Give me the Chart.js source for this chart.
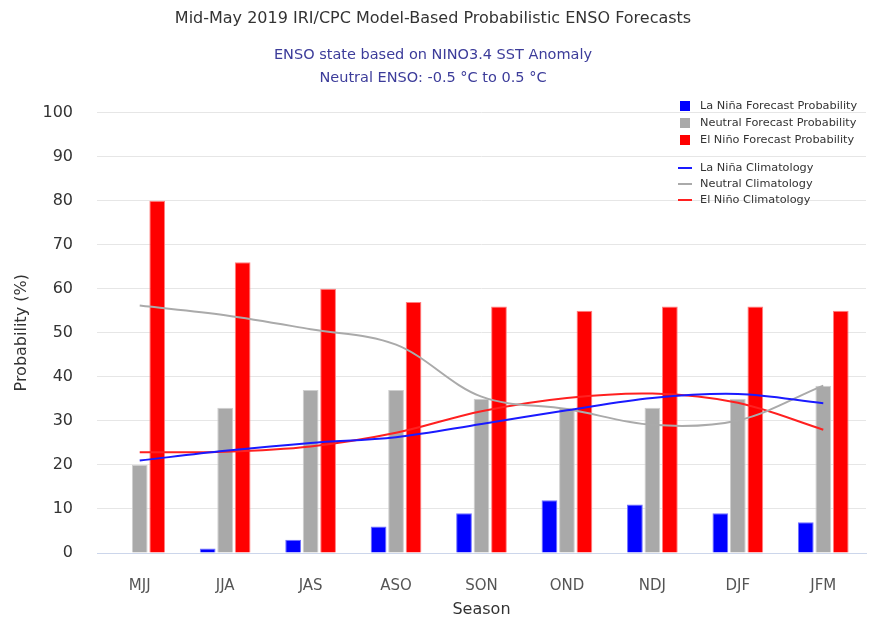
<!DOCTYPE html>
<html>
<head>
<meta charset="utf-8">
<script src="https://cdn.jsdelivr.net/npm/chart.js@4/dist/chart.umd.min.js"></script>
<style>
  html, body { margin: 0; padding: 0; background: #fff; }
  #wrap { width: 877px; height: 621px; }
</style>
</head>
<body>
<div id="wrap"><canvas id="enso"></canvas></div>
<script>
let seasons = ['MJJ', 'JJA', 'JAS', 'ASO', 'SON', 'OND', 'NDJ', 'DJF', 'JFM']

// forecast probabilities (%)
let laNina = [0, 1, 3, 6, 9, 12, 11, 9, 7]
let neutral = [20, 33, 37, 37, 35, 33, 33, 35, 38]
let elNino = [80, 66, 60, 57, 56, 55, 56, 56, 55]

// climatology (%)
let laNinaClim = [21, 23.2, 25, 26.3, 29.3, 32.4, 35.2, 36.1, 34]
let neutralClim = [56.2, 54, 50.8, 47.3, 35.5, 32.7, 29.1, 30.1, 38]
let elNinoClim = [22.9, 23, 24.2, 27.3, 32.2, 35.2, 36.2, 34.1, 28]

let yTicks = [0, 10, 20, 30, 40, 50, 60, 70, 80, 90, 100]

let font = '"DejaVu Sans", sans-serif'

function barSet(label, data, colour, edge) {
  return {
    type: 'bar',
    label: label,
    data: data,
    backgroundColor: colour,
    borderColor: edge,
    borderWidth: 1,
    borderSkipped: 'bottom',
    categoryPercentage: 0.614,
    barPercentage: 0.9,
    order: 2,
  }
}

function lineSet(label, data, colour) {
  return {
    type: 'line',
    label: label,
    data: data,
    borderColor: colour,
    backgroundColor: colour,
    borderWidth: 2,
    pointRadius: 0,
    tension: 0.35,
    fill: false,
    order: 1,
  }
}

// legend drawn inside the plot, top right, like the original
let insideLegend = {
  id: 'insideLegend',
  afterDraw(chart) {
    let ctx = chart.ctx
    let ds = chart.data.datasets
    ctx.save()
    ctx.font = '11.3px ' + font
    ctx.textBaseline = 'middle'
    let barRows = [106, 123, 140]
    let lineRows = [168, 184, 200]
    for (let i = 0; i < 3; ++i) {
      ctx.fillStyle = ds[i].backgroundColor
      ctx.fillRect(680, barRows[i] - 5, 10, 10)
      ctx.fillStyle = '#333'
      ctx.fillText(ds[i].label, 700, barRows[i])
    }
    for (let i = 0; i < 3; ++i) {
      let d = ds[i + 3]
      ctx.strokeStyle = d.borderColor
      ctx.lineWidth = 2
      ctx.beginPath()
      ctx.moveTo(678, lineRows[i])
      ctx.lineTo(692, lineRows[i])
      ctx.stroke()
      ctx.fillStyle = '#333'
      ctx.fillText(d.label, 700, lineRows[i])
    }
    ctx.restore()
  }
}

let ctx = document.getElementById('enso').getContext('2d')
let chart = new Chart(ctx, {
  data: {
    labels: seasons,
    datasets: [
      barSet('La Niña Forecast Probability', laNina, '#0000ff', '#6f6fff'),
      barSet('Neutral Forecast Probability', neutral, '#a9a9a9', '#cfcfcf'),
      barSet('El Niño Forecast Probability', elNino, '#ff0000', '#ff8080'),
      lineSet('La Niña Climatology', laNinaClim, '#1a1aff'),
      lineSet('Neutral Climatology', neutralClim, '#aaaaaa'),
      lineSet('El Niño Climatology', elNinoClim, '#ff2020'),
    ],
  },
  options: {
    responsive: true,
    maintainAspectRatio: false,
    animation: false,
    layout: {
      padding: {left: 0, right: 11, top: 0, bottom: 0},
    },
    plugins: {
      legend: {display: false},
      tooltip: {enabled: false},
      title: {
        display: true,
        text: 'Mid-May 2019 IRI/CPC Model-Based Probabilistic ENSO Forecasts',
        color: '#333',
        font: {family: font, size: 16, weight: 'normal', lineHeight: 1.2},
        padding: {top: 9, bottom: 15},
      },
      subtitle: {
        display: true,
        text: ['ENSO state based on NINO3.4 SST Anomaly', 'Neutral ENSO: -0.5 °C to 0.5 °C'],
        color: '#3c3c9a',
        font: {family: font, size: 14.5, weight: 'normal', lineHeight: 1.6},
        padding: {top: 0, bottom: 23},
      },
    },
    scales: {
      x: {
        grid: {display: false},
        border: {display: true, color: '#ccd6eb', width: 1},
        ticks: {
          color: '#555',
          padding: 16,
          font: {family: font, size: 15},
        },
        title: {
          display: true,
          text: 'Season',
          color: '#333',
          font: {family: font, size: 16},
          padding: {top: 0, bottom: 2},
        },
        afterFit(scale) { scale.height = 68 },
      },
      y: {
        min: 0,
        max: 100,
        afterBuildTicks(scale) { scale.ticks = yTicks.map(v => ({value: v})) },
        grid: {color: '#e6e6e6', drawTicks: false},
        border: {display: false},
        ticks: {
          color: '#333',
          padding: 24,
          font: {family: font, size: 16},
        },
        title: {
          display: true,
          text: 'Probability (%)',
          color: '#333',
          font: {family: font, size: 16},
          padding: {top: 12, bottom: 0},
        },
        afterFit(scale) { scale.width = 97 },
      },
    },
  },
  plugins: [insideLegend],
})
</script>
</body>
</html>
